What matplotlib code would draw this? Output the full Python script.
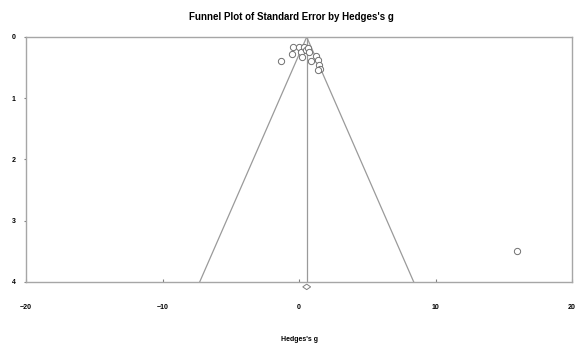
import matplotlib.pyplot as plt
from matplotlib.patches import Polygon

# Study effects (Hedges's g) and standard errors
hedges_g = [-0.47, -0.51, -1.31, 0.02, 0.15, 0.19, 0.39, 0.51, 0.63, 0.75,
            0.88, 1.24, 1.36, 1.48, 1.53, 1.41, 16.0]
std_err = [0.16, 0.27, 0.39, 0.16, 0.24, 0.32, 0.16, 0.21, 0.18, 0.24,
           0.39, 0.31, 0.37, 0.46, 0.52, 0.54, 3.49]

# Summary effect and its confidence interval
summary_g = 0.56
ci_low = 0.27
ci_high = 0.85

x_ticks = [-20, -10, 0, 10, 20]
y_ticks = [0, 1, 2, 3, 4]
se_max = 4

plt.rcParams['font.family'] = ['Liberation Sans', 'DejaVu Sans']

fig = plt.figure(figsize=(5.82, 3.48), dpi=100)
ax = fig.add_axes([0.0447, 0.1897, 0.9383, 0.704])

grey = '#a6a6a6'

# Funnel lines (95% limits) and vertical line at summary effect
ax.plot([summary_g - 1.96 * se_max, summary_g, summary_g + 1.96 * se_max],
        [se_max, 0, se_max], color='#9a9a9a', lw=0.9)
ax.plot([summary_g, summary_g], [0, se_max], color='#9a9a9a', lw=0.9)

ax.plot(hedges_g, std_err, linestyle='none', marker='o', markersize=4.5,
        markerfacecolor='white', markeredgecolor='#707070', markeredgewidth=0.7)

# Diamond for the summary effect, just below the axis
dh = 0.045
diamond = Polygon([[ci_low, se_max + 0.08], [summary_g, se_max + 0.08 - dh],
                   [ci_high, se_max + 0.08], [summary_g, se_max + 0.08 + dh]],
                  closed=True, facecolor='white', edgecolor='#808080', lw=0.7,
                  clip_on=False)
ax.add_patch(diamond)

ax.set_xlim(-20, 20)
ax.set_ylim(se_max, 0)
ax.set_xticks(x_ticks)
ax.set_yticks(y_ticks)

for s in ax.spines.values():
    s.set_color(grey)
    s.set_linewidth(1.0)

ax.tick_params(axis='x', direction='in', length=2, color='#808080', pad=16,
               labelsize=5)
ax.tick_params(axis='y', direction='out', length=1.5, color='#808080', pad=6,
               labelsize=5)
for lab in ax.get_xticklabels() + ax.get_yticklabels():
    lab.set_fontweight('bold')

ax.set_xlabel("Hedges's g", fontsize=5, fontweight='bold', labelpad=18)
fig.suptitle("Funnel Plot of Standard Error by Hedges's g", fontsize=7,
             fontweight='bold', y=0.965)

fig.savefig('out.png', dpi=100)
